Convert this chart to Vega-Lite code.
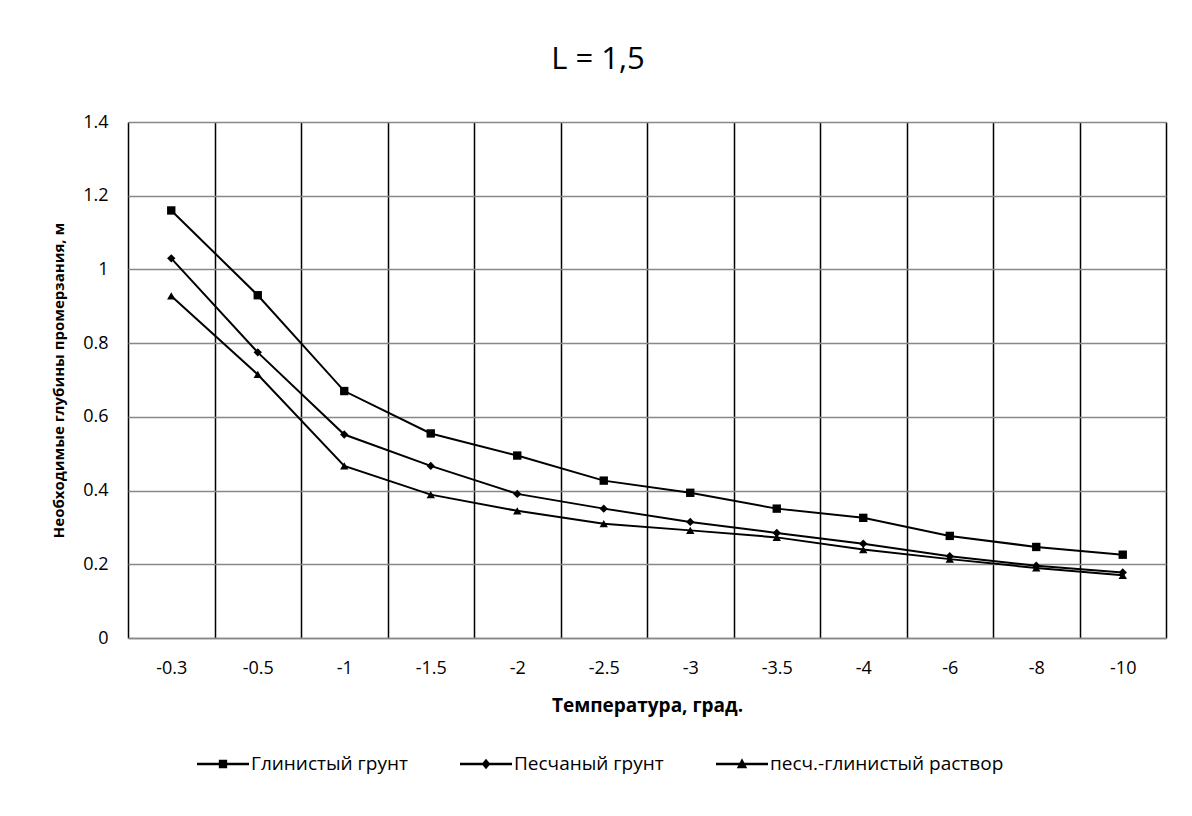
{
  "$schema": "https://vega.github.io/schema/vega-lite/v6.json",
  "width": 1038,
  "height": 516,
  "autosize": {"type": "none"},
  "padding": {"left": 128, "top": 122, "right": 26, "bottom": 178},
  "background": "white",
  "config": {"font": "Open Sans", "view": {"stroke": null}},
  "title": {"text": "L = 1,5", "fontSize": 31, "fontWeight": "normal", "color": "#000", "anchor": "middle", "dx": -49, "offset": 37},
  "data": {"values": [
    {"t": "-0.3", "series": "Глинистый грунт", "depth": 1.16},
    {"t": "-0.5", "series": "Глинистый грунт", "depth": 0.93},
    {"t": "-1", "series": "Глинистый грунт", "depth": 0.67},
    {"t": "-1.5", "series": "Глинистый грунт", "depth": 0.555},
    {"t": "-2", "series": "Глинистый грунт", "depth": 0.495},
    {"t": "-2.5", "series": "Глинистый грунт", "depth": 0.427},
    {"t": "-3", "series": "Глинистый грунт", "depth": 0.394},
    {"t": "-3.5", "series": "Глинистый грунт", "depth": 0.351},
    {"t": "-4", "series": "Глинистый грунт", "depth": 0.326},
    {"t": "-6", "series": "Глинистый грунт", "depth": 0.277},
    {"t": "-8", "series": "Глинистый грунт", "depth": 0.247},
    {"t": "-10", "series": "Глинистый грунт", "depth": 0.226},
    {"t": "-0.3", "series": "Песчаный грунт", "depth": 1.03},
    {"t": "-0.5", "series": "Песчаный грунт", "depth": 0.775},
    {"t": "-1", "series": "Песчаный грунт", "depth": 0.552},
    {"t": "-1.5", "series": "Песчаный грунт", "depth": 0.467},
    {"t": "-2", "series": "Песчаный грунт", "depth": 0.391},
    {"t": "-2.5", "series": "Песчаный грунт", "depth": 0.351},
    {"t": "-3", "series": "Песчаный грунт", "depth": 0.315},
    {"t": "-3.5", "series": "Песчаный грунт", "depth": 0.285},
    {"t": "-4", "series": "Песчаный грунт", "depth": 0.256},
    {"t": "-6", "series": "Песчаный грунт", "depth": 0.222},
    {"t": "-8", "series": "Песчаный грунт", "depth": 0.196},
    {"t": "-10", "series": "Песчаный грунт", "depth": 0.178},
    {"t": "-0.3", "series": "песч.-глинистый раствор", "depth": 0.928},
    {"t": "-0.5", "series": "песч.-глинистый раствор", "depth": 0.715},
    {"t": "-1", "series": "песч.-глинистый раствор", "depth": 0.467},
    {"t": "-1.5", "series": "песч.-глинистый раствор", "depth": 0.389},
    {"t": "-2", "series": "песч.-глинистый раствор", "depth": 0.345},
    {"t": "-2.5", "series": "песч.-глинистый раствор", "depth": 0.31},
    {"t": "-3", "series": "песч.-глинистый раствор", "depth": 0.292},
    {"t": "-3.5", "series": "песч.-глинистый раствор", "depth": 0.273},
    {"t": "-4", "series": "песч.-глинистый раствор", "depth": 0.24},
    {"t": "-6", "series": "песч.-глинистый раствор", "depth": 0.214},
    {"t": "-8", "series": "песч.-глинистый раствор", "depth": 0.19},
    {"t": "-10", "series": "песч.-глинистый раствор", "depth": 0.17}
  ]},
  "encoding": {
    "x": {
      "field": "t", "type": "ordinal",
      "sort": ["-0.3", "-0.5", "-1", "-1.5", "-2", "-2.5", "-3", "-3.5", "-4", "-6", "-8", "-10"],
      "scale": {"type": "band", "paddingInner": 0, "paddingOuter": 0},
      "axis": {
        "title": "Температура, град.", "titleFontSize": 19, "titleFontWeight": "bold", "titleColor": "#000", "titlePadding": 19,
        "labelFontSize": 18, "labelColor": "#000", "labelPadding": 21, "labelAngle": 0,
        "ticks": false, "grid": true, "tickBand": "extent", "gridColor": "#000", "gridWidth": 1.5, "gridOpacity": 1,
        "domainColor": "#888", "domainWidth": 1.5
      }
    },
    "y": {
      "field": "depth", "type": "quantitative",
      "scale": {"domain": [0, 1.4], "nice": false, "zero": true},
      "axis": {
        "title": "Необходимые глубины промерзания, м", "titleFontSize": 15, "titleFontWeight": "bold", "titleColor": "#000", "titlePadding": 16,
        "values": [0, 0.2, 0.4, 0.6, 0.8, 1, 1.2, 1.4], "format": "~g",
        "labelFontSize": 18, "labelColor": "#000", "labelPadding": 20,
        "ticks": false, "domain": false, "grid": true, "gridColor": "#888", "gridWidth": 1.5, "gridOpacity": 1
      }
    }
  },
  "layer": [
    {
      "mark": {"type": "line", "color": "#000", "strokeWidth": 2},
      "encoding": {"detail": {"field": "series", "type": "nominal"}}
    },
    {
      "mark": {"type": "point", "filled": true, "color": "#000", "opacity": 1, "size": 70},
      "encoding": {
        "shape": {
          "field": "series", "type": "nominal",
          "sort": ["Глинистый грунт", "Песчаный грунт", "песч.-глинистый раствор"],
          "scale": {"range": ["square", "diamond", "triangle-up"]},
          "legend": null
        }
      }
    },
    {
      "mark": {"type": "point", "filled": true, "color": "#000", "opacity": 0, "size": 1},
      "encoding": {
        "shape": {
          "field": "series", "type": "nominal",
          "sort": ["Глинистый грунт", "Песчаный грунт", "песч.-глинистый раствор"],
          "scale": {"range": [
            "M-1,-0.045H1V0.045H-1Z M-0.16,-0.16H0.16V0.16H-0.16Z",
            "M-1,-0.045H1V0.045H-1Z M0,-0.2L0.17,0L0,0.2L-0.17,0Z",
            "M-1,-0.045H1V0.045H-1Z M0,-0.22L0.2,0.16L-0.2,0.16Z"
          ]},
          "legend": {
            "title": null, "orient": "none", "direction": "horizontal",
            "legendX": 69, "legendY": 616,
            "columnPadding": 52, "symbolSize": 2704, "symbolFillColor": "#000", "symbolStrokeWidth": 0, "symbolOpacity": 1,
            "labelFontSize": 19, "labelColor": "#000", "labelOffset": 2, "labelLimit": 400
          }
        }
      }
    }
  ],
  "resolve": {"scale": {"shape": "independent"}}
}
